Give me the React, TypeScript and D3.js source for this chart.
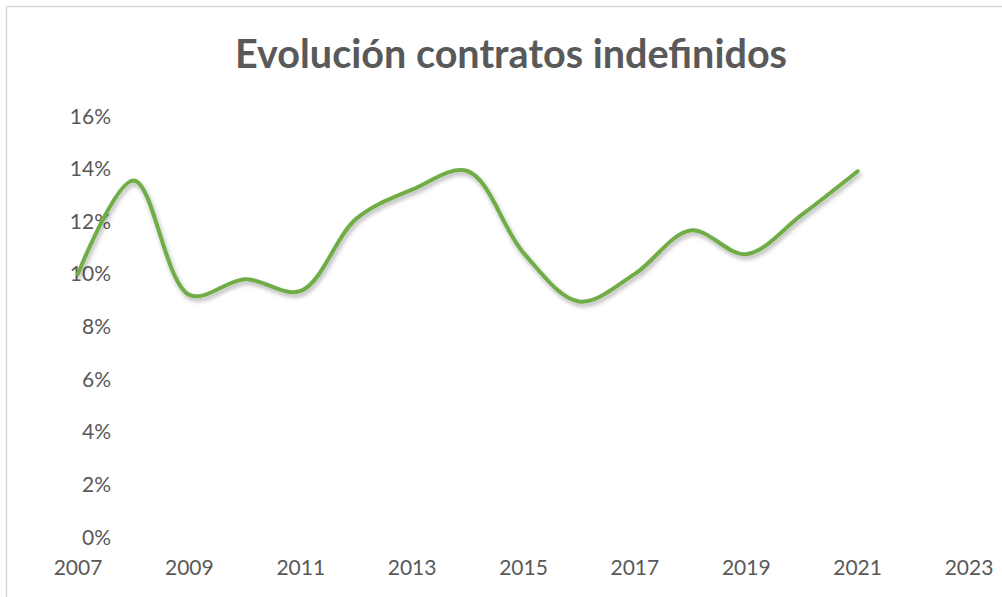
import React from "react";
import * as d3 from "d3";

const years = [2007, 2008, 2009, 2010, 2011, 2012, 2013, 2014, 2015, 2016, 2017, 2018, 2019, 2020, 2021];
const values = [10.0, 13.55, 9.2, 9.8, 9.35, 12.1, 13.2, 13.9, 10.8, 8.95, 10.0, 11.65, 10.75, 12.25, 13.9];
const xTicks = [2007, 2009, 2011, 2013, 2015, 2017, 2019, 2021, 2023];
const yTicks = [0, 2, 4, 6, 8, 10, 12, 14, 16];
const title = "Evolución contratos indefinidos";

export default function App() {
  const W = 1002;
  const H = 597;
  const x = d3.scaleLinear().domain([2007, 2023]).range([78, 969]);
  const y = d3.scaleLinear().domain([0, 16]).range([537, 116]);
  const pts: [number, number][] = years.map((yr, i) => [yr, values[i]]);
  const line = d3
    .line<[number, number]>()
    .x((d) => x(d[0]))
    .y((d) => y(d[1]))
    .curve(d3.curveCatmullRom.alpha(0.5));
  const font = "Lato, 'Open Sans', sans-serif";
  return (
    <div style={{ position: "absolute", left: 0, top: 0 }}>
      <svg width={W} height={H} style={{ display: "block", background: "#fff" }}>
        <defs>
          <filter id="shadow" x="-10%" y="-10%" width="120%" height="130%">
            <feDropShadow dx="1.5" dy="3" stdDeviation="2" floodColor="#000" floodOpacity="0.3" />
          </filter>
        </defs>
        <rect x={6.5} y={6.5} width={1020} height={620} fill="none" stroke="#d9d9d9" strokeWidth={1.5} />
        <text
          x={511}
          y={68}
          textAnchor="middle"
          fontFamily={font}
          fontWeight="bold"
          fontSize={40}
          fill="#595959"
          textLength={552}
          lengthAdjust="spacingAndGlyphs"
        >
          {title}
        </text>
        {yTicks.map((t) => (
          <text
            key={"y" + t}
            x={111}
            y={y(t)}
            dy="0.36em"
            textAnchor="end"
            fontFamily={font}
            fontSize={21}
            fill="#595959"
          >
            {t + "%"}
          </text>
        ))}
        {xTicks.map((t) => (
          <text
            key={"x" + t}
            x={x(t)}
            y={575}
            textAnchor="middle"
            fontFamily={font}
            fontSize={21}
            fill="#595959"
          >
            {t}
          </text>
        ))}
        <path
          d={line(pts) || ""}
          fill="none"
          stroke="#70AD47"
          strokeWidth={4}
          strokeLinecap="round"
          strokeLinejoin="round"
          filter="url(#shadow)"
        />
      </svg>
    </div>
  );
}
